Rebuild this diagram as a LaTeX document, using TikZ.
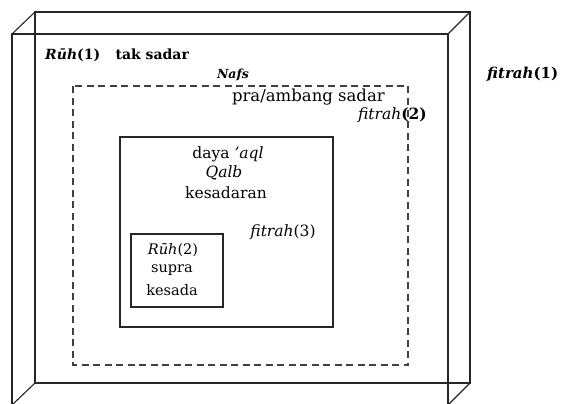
\documentclass[tikz,border=0pt]{standalone}
\usepackage{fontspec}
\setmainfont{DejaVu Serif}
\begin{document}
\begin{tikzpicture}[x=1pt,y=-1pt,
  frame/.style={draw=black!85,line width=1.1pt},
  dashbox/.style={draw=black!75,line width=1.2pt,dash pattern=on 7pt off 4.5pt},
  lbl/.style={inner sep=0pt,font=\fontsize{15.5}{18}\selectfont},
  blbl/.style={inner sep=0pt,font=\fontsize{14}{17}\selectfont\bfseries}]
\useasboundingbox (0,0) rectangle (562,404);
\clip (0,0) rectangle (562,404);
% transparent box
\draw[frame] (35,12) rectangle (470,383);
\draw[frame] (12,34) rectangle (448,405);
\draw[frame] (12,34) -- (35,12);
\draw[frame] (448,34) -- (470,12);
\draw[frame] (12,405) -- (35,383);
\draw[frame] (448,405) -- (470,383);
% dashed box
\draw[dashbox] (73,86) rectangle (408,365);
% inner boxes
\draw[frame] (120,137) rectangle (333,327);
\draw[frame] (131,234) rectangle (223,307);
% labels
\node[blbl,anchor=west] (ruh1) at (45,55) {\textit{Rūh}(1)\hspace{1.1em}tak sadar};
\node[blbl,anchor=center,font=\fontsize{12.5}{15}\selectfont\bfseries] (nafs) at (233,75) {\textit{Nafs}};
\node[blbl,anchor=west,font=\fontsize{15}{18}\selectfont\bfseries] (fit1) at (487,74) {\textit{fitrah}(1)};
\node[lbl,anchor=east,font=\fontsize{16.5}{19}\selectfont] (pra) at (385,97) {pra/ambang sadar};
\node[lbl,anchor=east] (fit2) at (427,115) {\textit{fitrah}\textbf{(2)}};
\node[lbl,anchor=center] (daya) at (228,154) {daya \textit{'aql}};
\node[lbl,anchor=center] (qalb) at (224,173) {\textit{Qalb}};
\node[lbl,anchor=center] (kes) at (226,193) {kesadaran};
\node[lbl,anchor=center] (fit3) at (283,232) {\textit{fitrah}(3)};
\node[lbl,anchor=center,font=\fontsize{14.5}{17}\selectfont] (ruh2) at (173,250) {\textit{Rūh}(2)};
\node[lbl,anchor=center,font=\fontsize{14.5}{17}\selectfont] (sup) at (172,270) {supra};
\node[lbl,anchor=center,font=\fontsize{14.5}{17}\selectfont] (kesd) at (172,290) {kesada};
\end{tikzpicture}
\end{document}
